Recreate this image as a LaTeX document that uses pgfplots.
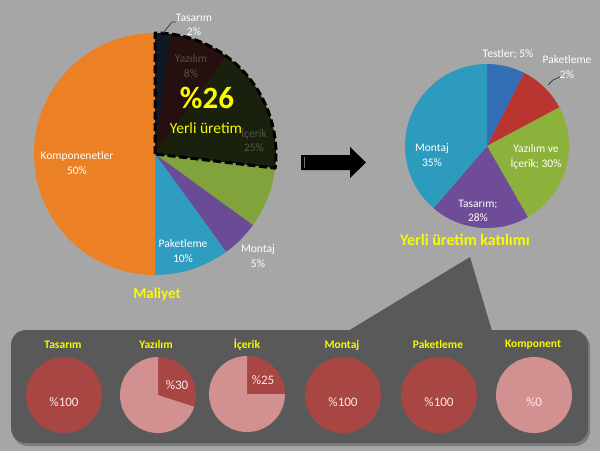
\documentclass[border=0pt]{standalone}
\usepackage{pgfplots}
\pgfplotsset{compat=1.18}
\usepackage{fontspec}
\setmainfont{Carlito}
\definecolor{bg}{RGB}{166,166,166}
\definecolor{panel}{RGB}{89,89,89}
\definecolor{cOrange}{RGB}{236,128,37}
\definecolor{cCyan}{RGB}{46,157,192}
\definecolor{cPurple}{RGB}{106,76,150}
\definecolor{cGreen}{RGB}{128,163,59}
\definecolor{cBlue}{RGB}{79,129,189}
\definecolor{cRed}{RGB}{192,80,77}
\definecolor{rBlue}{RGB}{52,110,182}
\definecolor{rRed}{RGB}{186,52,48}
\definecolor{rGreen}{RGB}{140,178,60}
\definecolor{rPurple}{RGB}{110,76,152}
\definecolor{rCyan}{RGB}{45,155,190}
\definecolor{dRed}{RGB}{168,70,68}
\definecolor{lRed}{RGB}{211,144,144}
\definecolor{yel}{RGB}{250,250,0}
\definecolor{dim}{RGB}{84,84,76}
\definecolor{pinkw}{RGB}{250,235,235}

% pie: centre x, centre y, radius, list of value/colour (clockwise from top)
\newcommand\piechart[4]{%
  \gdef\pacc{0}%
  \foreach \pv/\pc in {#4}{%
    \pgfmathsetmacro\pa{90-3.6*\pacc}%
    \pgfmathsetmacro\pb{90-3.6*(\pacc+\pv)}%
    \edef\tmp{\noexpand\fill[\pc] (axis cs:#1,#2) -- ++(\pa:#3pt) arc[start angle=\pa, end angle=\pb, radius=#3pt] -- cycle;}%
    \tmp
    \pgfmathsetmacro\pn{\pacc+\pv}\xdef\pacc{\pn}%
  }}

\begin{document}
\begin{tikzpicture}
\begin{axis}[
  x=1pt, y=1pt, xmin=0, xmax=600, ymin=0, ymax=451,
  hide axis, scale only axis, clip=false, enlargelimits=false]
% background
\fill[bg] (axis cs:0,0) rectangle (axis cs:600,451);

% ---- bottom panel ----
\fill[black, opacity=0.25, rounded corners=15pt] (axis cs:12.5,5) rectangle (axis cs:590,119);
\fill[panel, rounded corners=15pt] (axis cs:11,8) rectangle (axis cs:588,121);
\fill[panel] (axis cs:348,120) -- (axis cs:470,194) -- (axis cs:492,120) -- cycle;

% ---- main pie (Maliyet) ----
\piechart{155}{297}{121}{2/cBlue, 8/cRed, 25/cGreen, 5/cPurple, 10/cCyan, 50/cOrange}
\fill[black, opacity=0.8] (axis cs:155,297) -- ++(90:121pt) arc[start angle=90, end angle=-6.7, radius=121pt] -- cycle;
\draw[black, line width=3pt, dash pattern=on 8pt off 3.5pt, line join=round] (axis cs:155,297) -- ++(90:121pt) arc[start angle=90, end angle=-6.7, radius=121pt] -- cycle;

\draw[black!75, line width=0.8pt] (axis cs:163,418) -- (axis cs:172,429) -- (axis cs:176,429);
\node[white, align=center, font=\fontsize{11.5}{14.5}\selectfont] at (axis cs:194,426) {Tasarım\\2\%};
\node[dim, align=center, font=\fontsize{11.5}{14.5}\selectfont] at (axis cs:191,385) {Yazılım\\8\%};
\node[dim, align=center, font=\fontsize{11.5}{14.5}\selectfont] at (axis cs:254,311) {İçerik\\25\%};
\node[yel, font=\fontsize{31}{31}\bfseries] at (axis cs:207,353) {\%26};
\node[yel, font=\fontsize{15.5}{15.5}\selectfont] at (axis cs:206,323) {Yerli üretim};
\node[white, align=center, font=\fontsize{11.5}{14.5}\selectfont] at (axis cs:77,288) {Komponenetler\\50\%};
\node[white, align=center, font=\fontsize{11.5}{14.5}\selectfont] at (axis cs:183,200) {Paketleme\\10\%};
\node[white, align=center, font=\fontsize{11.5}{14.5}\selectfont] at (axis cs:258,195) {Montaj\\5\%};
\node[yel, font=\fontsize{15}{15}\bfseries] at (axis cs:157,157) {Maliyet};

% ---- arrow ----
\fill[black] (axis cs:301,296) -- (axis cs:350,296) -- (axis cs:350,304) -- (axis cs:366,288.5)
  -- (axis cs:350,273) -- (axis cs:350,281) -- (axis cs:301,281) -- cycle;
\draw[black!55, line width=0.5pt] (axis cs:304,294) -- (axis cs:304,283);

% ---- right pie (Yerli uretim katilimi) ----
\piechart{487}{305}{82}{7.5/rBlue, 9.7/rRed, 24.5/rGreen, 19.6/rPurple, 38.7/rCyan}
\node[white, font=\fontsize{11.5}{14.5}\selectfont] at (axis cs:508,397) {Testler; 5\%};
\draw[black!75, line width=0.8pt] (axis cs:560,374) -- (axis cs:553,371) -- (axis cs:548,366);
\node[white, align=center, font=\fontsize{11.5}{14.5}\selectfont] at (axis cs:567,384) {Paketleme\\2\%};
\node[white, align=center, font=\fontsize{11.5}{14.5}\selectfont] at (axis cs:536,294) {Yazılım ve\\İçerik; 30\%};
\node[white, align=center, font=\fontsize{11.5}{14.5}\selectfont] at (axis cs:478,240) {Tasarım;\\28\%};
\node[white, align=center, font=\fontsize{11.5}{14.5}\selectfont] at (axis cs:432,296) {Montaj\\35\%};
\node[yel, font=\fontsize{16}{16}\bfseries] at (axis cs:465,211) {Yerli üretim katılımı};

% ---- small pies ----
\piechart{64}{56}{38}{100/dRed}
\piechart{158}{56}{38}{30/dRed, 70/lRed}
\piechart{247}{57}{38}{25/dRed, 75/lRed}
\piechart{343}{56}{38}{100/dRed}
\piechart{439}{56}{38}{100/dRed}
\piechart{534}{56}{38}{100/lRed}

\foreach \xx/\tt in {63/Tasarım, 156/Yazılım, 247/İçerik, 342/Montaj, 438/Paketleme, 533/Komponent}{
  \edef\tmp{\noexpand\node[yel, font=\noexpand\fontsize{11.5}{11.5}\noexpand\bfseries] at (axis cs:\xx,106) {\tt};}\tmp
}
\node[pinkw, font=\fontsize{13}{13}\selectfont] at (axis cs:64,49) {\%100};
\node[pinkw, font=\fontsize{13}{13}\selectfont] at (axis cs:177,66) {\%30};
\node[pinkw, font=\fontsize{13}{13}\selectfont] at (axis cs:263,71) {\%25};
\node[pinkw, font=\fontsize{13}{13}\selectfont] at (axis cs:343,49) {\%100};
\node[pinkw, font=\fontsize{13}{13}\selectfont] at (axis cs:439,49) {\%100};
\node[pinkw, font=\fontsize{13}{13}\selectfont] at (axis cs:534,49) {\%0};
\end{axis}
\end{tikzpicture}
\end{document}
